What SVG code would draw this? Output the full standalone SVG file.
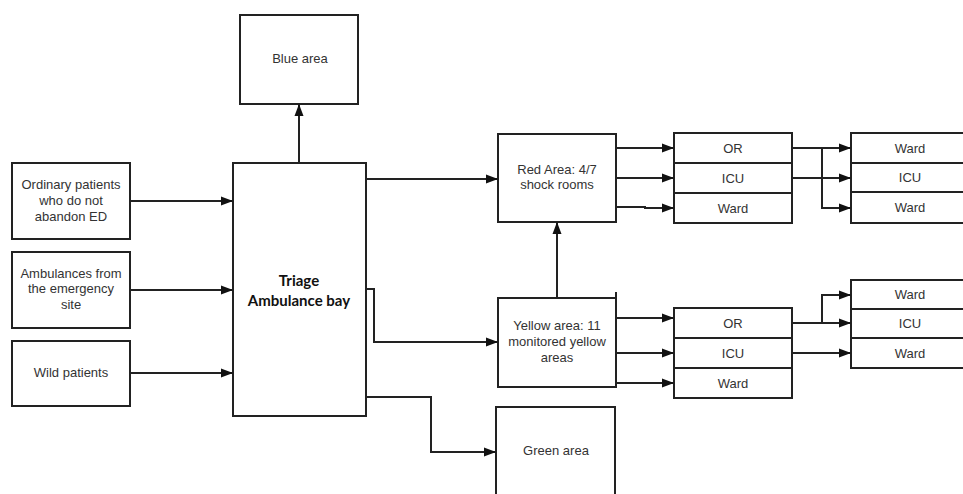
<svg xmlns="http://www.w3.org/2000/svg" width="963" height="494" viewBox="0 0 963 494">
<style>
.box{fill:#fff;stroke:#222;stroke-width:2}
.t{font-family:"Liberation Sans",Arial,sans-serif;font-size:13px;fill:#333;text-anchor:middle}
.b{font-family:Lato,"Liberation Sans",sans-serif;font-size:15px;font-weight:bold;fill:#111;text-anchor:middle}
.c{fill:none;stroke:#222;stroke-width:2}
</style>
<defs>
<marker id="ah" markerUnits="userSpaceOnUse" markerWidth="13" markerHeight="10" refX="12" refY="5" orient="auto">
<path d="M0,0.5 L12,5 L0,9.5 z" fill="#111"/>
</marker>
</defs>
<rect width="963" height="494" fill="#fff"/>
<g id="ordinary"><rect class="box" x="12" y="163" width="118" height="76"/>
<text class="t" x="71" y="189">Ordinary patients</text><text class="t" x="71" y="205">who do not</text><text class="t" x="71" y="221">abandon ED</text></g>
<g id="ambulances"><rect class="box" x="12" y="252" width="118" height="76"/>
<text class="t" x="71" y="278">Ambulances from</text><text class="t" x="71" y="293">the emergency</text><text class="t" x="71" y="309">site</text></g>
<g id="wild"><rect class="box" x="12" y="341" width="118" height="65"/>
<text class="t" x="71" y="377">Wild patients</text></g>
<g id="triage"><rect class="box" x="233" y="163" width="133" height="253"/>
<text class="b" x="299" y="286">Triage</text><text class="b" x="299" y="306">Ambulance bay</text></g>
<g id="blue"><rect class="box" x="240" y="15" width="118" height="89"/>
<text class="t" x="300" y="63">Blue area</text></g>
<g id="red"><rect class="box" x="498" y="134" width="118" height="88"/>
<text class="t" x="557" y="174">Red Area: 4/7</text><text class="t" x="557" y="189">shock rooms</text></g>
<g id="yellow"><rect class="box" x="498" y="298" width="118" height="89"/>
<path class="c" d="M616,298 V292"/>
<text class="t" x="557" y="330">Yellow area: 11</text><text class="t" x="557" y="346">monitored yellow</text><text class="t" x="557" y="362">areas</text></g>
<g id="green"><rect class="box" x="496" y="407" width="119" height="100"/>
<text class="t" x="556" y="455">Green area</text></g>
<g id="red-out">
<rect class="box" x="674" y="133" width="118" height="30"/><text class="t" x="733" y="153">OR</text>
<rect class="box" x="674" y="163" width="118" height="30"/><text class="t" x="733" y="183">ICU</text>
<rect class="box" x="674" y="193" width="118" height="30"/><text class="t" x="733" y="213">Ward</text></g>
<g id="red-next">
<rect class="box" x="851" y="133" width="118" height="30"/><text class="t" x="910" y="153">Ward</text>
<rect class="box" x="851" y="163" width="118" height="29"/><text class="t" x="910" y="182">ICU</text>
<rect class="box" x="851" y="192" width="118" height="31"/><text class="t" x="910" y="212">Ward</text></g>
<g id="yellow-out">
<rect class="box" x="674" y="308" width="118" height="30"/><text class="t" x="733" y="328">OR</text>
<rect class="box" x="674" y="338" width="118" height="30"/><text class="t" x="733" y="358">ICU</text>
<rect class="box" x="674" y="368" width="118" height="30"/><text class="t" x="733" y="388">Ward</text></g>
<g id="yellow-next">
<rect class="box" x="851" y="280" width="118" height="29"/><text class="t" x="910" y="299">Ward</text>
<rect class="box" x="851" y="309" width="118" height="29"/><text class="t" x="910" y="328">ICU</text>
<rect class="box" x="851" y="338" width="118" height="30"/><text class="t" x="910" y="358">Ward</text></g>
<g id="connectors">
<path class="c" d="M130,201 H233" marker-end="url(#ah)"/>
<path class="c" d="M130,290 H233" marker-end="url(#ah)"/>
<path class="c" d="M130,373 H233" marker-end="url(#ah)"/>
<path class="c" d="M299,163 V104" marker-end="url(#ah)"/>
<path class="c" d="M366,179 H498" marker-end="url(#ah)"/>
<path class="c" d="M366,289 H374 V342 H498" marker-end="url(#ah)"/>
<path class="c" d="M366,397 H431 V452 H496" marker-end="url(#ah)"/>
<path class="c" d="M557,298 V222" marker-end="url(#ah)"/>
<path class="c" d="M616,148 H674" marker-end="url(#ah)"/>
<path class="c" d="M616,178 H674" marker-end="url(#ah)"/>
<path class="c" d="M616,207 H645 V208 H674" marker-end="url(#ah)"/>
<path class="c" d="M616,318 H674" marker-end="url(#ah)"/>
<path class="c" d="M616,353 H674" marker-end="url(#ah)"/>
<path class="c" d="M616,383 H674" marker-end="url(#ah)"/>
<path class="c" d="M792,148 H851" marker-end="url(#ah)"/>
<path class="c" d="M792,178 H851" marker-end="url(#ah)"/>
<path class="c" d="M822,148 V208 H851" marker-end="url(#ah)"/>
<path class="c" d="M792,323 H851" marker-end="url(#ah)"/>
<path class="c" d="M822,323 V295 H851" marker-end="url(#ah)"/>
<path class="c" d="M792,353 H851" marker-end="url(#ah)"/>
</g>
</svg>
